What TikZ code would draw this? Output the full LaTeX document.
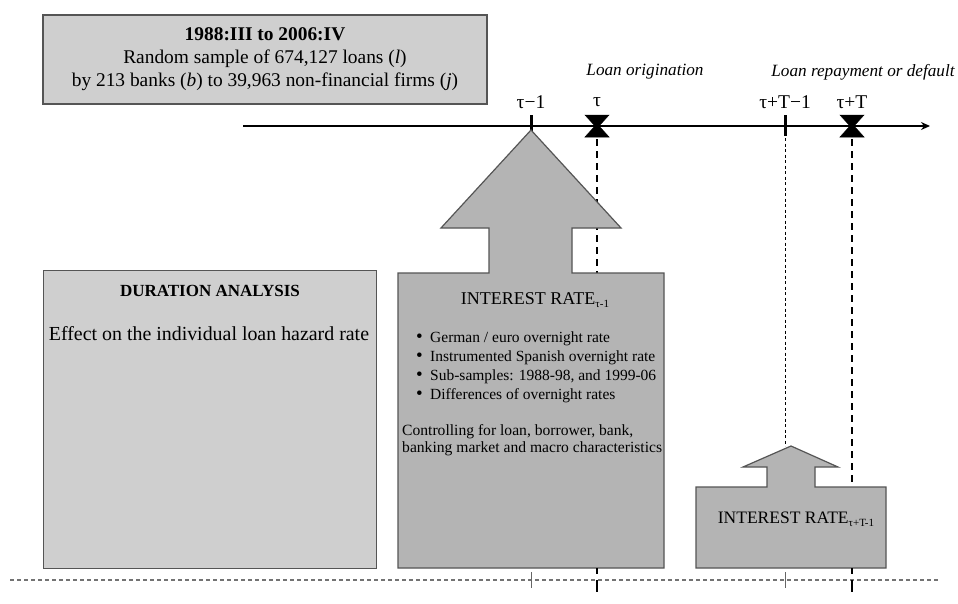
\documentclass[tikz,border=0pt]{standalone}
\usepackage{fontspec}
\setmainfont{Liberation Serif}
\usetikzlibrary{arrows.meta}
\definecolor{edgegray}{HTML}{555555}
\definecolor{lightfill}{HTML}{CFCFCF}
\definecolor{darkfill}{HTML}{B4B4B4}
\newcommand{\subtxt}[1]{\raisebox{-0.35ex}{\fontsize{11}{11}\selectfont #1}}
\newcommand{\bul}{\makebox[14pt][l]{\fontsize{19}{16}\selectfont•}}
\begin{document}
\begin{tikzpicture}[x=1pt,y=-1pt,
  panel/.style={draw=edgegray, line width=1.4pt, fill=lightfill, rectangle, inner sep=0pt},
  arrowbox/.style={draw=edgegray, line width=1.2pt, fill=darkfill, line join=miter},
  axisline/.style={line width=1.8pt, -{Stealth[length=9pt,width=8pt]}},
  ticklabel/.style={font=\fontsize{19.5}{20}\selectfont, inner sep=0pt},
  eventlabel/.style={font=\fontsize{17.2}{18}\selectfont\itshape, inner sep=0pt},
  bigtick/.style={line width=3pt},
  thickdash/.style={line width=2pt, dash pattern=on 7pt off 5pt},
  thindash/.style={line width=0.9pt, dash pattern=on 3pt off 2.5pt},
  baseline dots/.style={line width=1.6pt, draw=black!55, dash pattern=on 4pt off 3pt},
  bowtie/.style={fill=black, draw=black, line width=0.5pt},
  itemtxt/.style={font=\fontsize{15.5}{17}\selectfont, inner sep=0pt, anchor=west}
]
\useasboundingbox (0,0) rectangle (958,603);
\fill[white] (0,0) rectangle (958,603);

% top sample box
\node[panel, minimum width=444pt, minimum height=89pt, align=center,
      font=\fontsize{19.4}{23}\selectfont] (sample) at (265,59.5)
  {\textbf{1988:III to 2006:IV}\\Random sample of 674,127 loans (\textit{l})\\by 213 banks (\textit{b}) to 39,963 non-financial firms (\textit{j})};

% time axis
\coordinate (ax0) at (243,126);
\coordinate (ax1) at (930,126);
\draw[axisline] (ax0) -- (ax1);

\coordinate (t1) at (531,126);
\coordinate (t0) at (597,126);
\coordinate (tT1) at (785,126);
\coordinate (tT) at (852,126);

\draw[bigtick] ([yshift=-10pt]t1) -- ([yshift=11pt]t1);
\draw[bigtick] ([yshift=-10pt]tT1) -- ([yshift=11pt]tT1);
\fill[bowtie] ([shift={(-12,-11)}]t0) -- ([shift={(12,-11)}]t0) -- ([shift={(2,0)}]t0) -- ([shift={(12,11)}]t0) -- ([shift={(-12,11)}]t0) -- ([shift={(-2,0)}]t0) -- cycle;
\fill[bowtie] ([shift={(-12,-11)}]tT) -- ([shift={(12,-11)}]tT) -- ([shift={(2,0)}]tT) -- ([shift={(12,11)}]tT) -- ([shift={(-12,11)}]tT) -- ([shift={(-2,0)}]tT) -- cycle;

\node[ticklabel] (l1) at (531,102) {τ−1};
\node[ticklabel] (l0) at (597,102) {τ};
\node[ticklabel] (lT1) at (785,102) {τ+T−1};
\node[ticklabel] (lT) at (852,102) {τ+T};
\node[eventlabel] (orig) at (645,72) {Loan origination};
\node[eventlabel] (repay) at (863,72) {Loan repayment or default};

% vertical guides
\coordinate (g0top) at (597,139);
\coordinate (g0bot) at (597,273);
\coordinate (gTtop) at (852,139);
\coordinate (gTbot) at (852,487);
\coordinate (gT1top) at (785,138);
\coordinate (gT1bot) at (785,446);
\draw[thickdash] (g0top) -- (g0bot);
\draw[thickdash] (gTtop) -- (gTbot);
\draw[thindash] (gT1top) -- (gT1bot);

% duration analysis box
\node[panel, minimum width=333pt, minimum height=298pt, anchor=north west] (dur) at (43,270) {};
\node[font=\fontsize{17}{18}\selectfont\bfseries, inner sep=0pt] (durtitle) at (210,291) {DURATION ANALYSIS};
\node[font=\fontsize{19.9}{21}\selectfont, inner sep=0pt] (durtext) at (209,334) {Effect on the individual loan hazard rate};

% big arrow box
\draw[arrowbox] (398,273) -- (489,273) -- (489,228) -- (441,228) -- (531,130) -- (621,228) -- (572,228) -- (572,273) -- (664,273) -- (664,568) -- (398,568) -- cycle;
\node[font=\fontsize{18}{19}\selectfont, inner sep=0pt] (ir1) at (535,300) {INTEREST RATE\subtxt{τ-1}};
\node[itemtxt] (b1) at (416,339) {\bul German / euro overnight rate};
\node[itemtxt] (b2) at (416,358) {\bul Instrumented Spanish overnight rate};
\node[itemtxt] (b3) at (416,377) {\bul Sub-samples: 1988-98, and 1999-06};
\node[itemtxt] (b4) at (416,396) {\bul Differences of overnight rates};
\node[font=\fontsize{15.6}{17}\selectfont, inner sep=0pt, anchor=north west, align=left] (ctrl) at (402,424) {Controlling for loan, borrower, bank,\\banking market and macro characteristics};

% small arrow box
\draw[arrowbox] (696,487) -- (767,487) -- (767,467) -- (743,467) -- (791,446) -- (838,467) -- (815,467) -- (815,487) -- (886,487) -- (886,568) -- (696,568) -- cycle;
\node[font=\fontsize{17.5}{18}\selectfont, inner sep=0pt] (ir2) at (796,519) {INTEREST RATE\subtxt{τ+T-1}};

% bottom baseline
\coordinate (bl0) at (10,580);
\coordinate (bl1) at (940,580);
\draw[baseline dots] (bl0) -- (bl1);
\draw[line width=2pt, dash pattern=on 6pt off 6pt on 12pt] (597,568) -- (597,592);
\draw[line width=2pt, dash pattern=on 6pt off 6pt on 12pt] (852,568) -- (852,592);
\draw[line width=0.8pt, black!60] (531,572) -- (531,588);
\draw[line width=0.8pt, black!60] (785,572) -- (785,588);
\end{tikzpicture}
\end{document}
